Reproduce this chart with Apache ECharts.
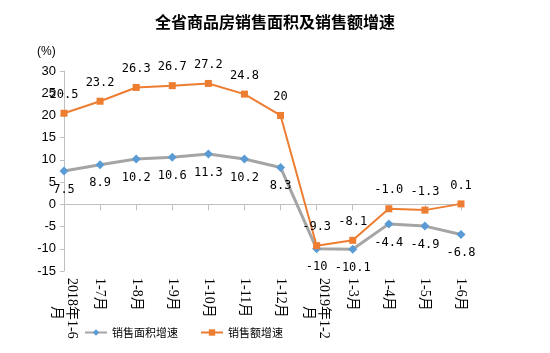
<!DOCTYPE html>
<html>
<head>
<meta charset="utf-8">
<script src="https://cdn.jsdelivr.net/npm/echarts@6/dist/echarts.min.js"></script>
<style>
  html, body { margin: 0; padding: 0; background: #fff; }
  #chart { width: 550px; height: 353px; }
</style>
</head>
<body>
<div id="chart"></div>
<script>
// 数据
const categories = [
  "2018年1-6\n　　月", "1-7月", "1-8月", "1-9月", "1-10月", "1-11月", "1-12月",
  "2019年1-2\n　　月", "1-3月", "1-4月", "1-5月", "1-6月"
];
const areaGrowth = [7.5, 8.9, 10.2, 10.6, 11.3, 10.2, 8.3, -10, -10.1, -4.4, -4.9, -6.8];
const amountGrowth = [20.5, 23.2, 26.3, 26.7, 27.2, 24.8, 20, -9.3, -8.1, -1.0, -1.3, 0.1];
const amountLabels = ["20.5", "23.2", "26.3", "26.7", "27.2", "24.8", "20", "-9.3", "-8.1", "-1.0", "-1.3", "0.1"];

const labelFont = "'DejaVu Sans Mono', monospace";

const getOption = () => {
  return {
    animation: false,
    title: {
      text: "全省商品房销售面积及销售额增速",
      left: "center",
      top: 9,
      textStyle: {
        fontSize: 16,
        fontWeight: "bold",
        color: "#000",
        fontFamily: "'Noto Sans CJK SC', serif",
      },
    },
    graphic: [
      {
        type: "text",
        left: 37,
        top: 46,
        style: { text: "(%)", fontSize: 12, fill: "#000", fontFamily: "Arial, 'Liberation Sans'" },
      },
    ],
    legend: {
      left: 79,
      top: 322,
      itemWidth: 22,
      itemHeight: 8,
      itemGap: 22,
      textStyle: { fontSize: 11, color: "#000", fontFamily: "'Noto Sans CJK SC'" },
      data: ["销售面积增速", "销售额增速"],
    },
    grid: {
      left: 64,
      right: 89,
      top: 71,
      bottom: 82,
    },
    xAxis: {
      type: "category",
      boundaryGap: false,
      data: categories,
      axisLine: { show: true, lineStyle: { color: "#bfbfbf", width: 1 } },
      axisTick: { show: true, alignWithLabel: true, length: 6, lineStyle: { color: "#bfbfbf" } },
      axisLabel: {
        rotate: -90,
        interval: 0,
        margin: 7,
        fontSize: 14,
        lineHeight: 15,
        color: "#000",
        fontFamily: "'Liberation Serif', 'Noto Sans CJK SC', serif",
      },
    },
    yAxis: {
      type: "value",
      min: -15,
      max: 30,
      interval: 5,
      splitLine: { show: false },
      axisLine: { show: true, lineStyle: { color: "#bfbfbf", width: 1 } },
      axisTick: { show: true, length: 4, lineStyle: { color: "#bfbfbf" } },
      axisLabel: {
        fontSize: 13,
        color: "#000",
        margin: 8,
        fontFamily: "Arial, 'Liberation Sans'",
      },
    },
    series: [
      {
        name: "销售面积增速",
        type: "line",
        data: areaGrowth,
        symbol: "diamond",
        symbolSize: 9,
        itemStyle: { color: "#5b9bd5" },
        lineStyle: { color: "#a5a5a5", width: 3 },
        label: {
          show: true,
          position: "bottom",
          distance: 8,
          fontSize: 12,
          color: "#000",
          fontFamily: labelFont,
        },
      },
      {
        name: "销售额增速",
        type: "line",
        data: amountGrowth,
        symbol: "rect",
        symbolSize: 7,
        itemStyle: { color: "#ed7d31" },
        lineStyle: { color: "#ed7d31", width: 2 },
        label: {
          show: true,
          position: "top",
          distance: 9,
          fontSize: 12,
          color: "#000",
          fontFamily: labelFont,
          formatter: (p) => amountLabels[p.dataIndex],
        },
      },
    ],
  };
};

const chart = echarts.init(document.getElementById("chart"));
chart.setOption(getOption());
</script>
</body>
</html>
